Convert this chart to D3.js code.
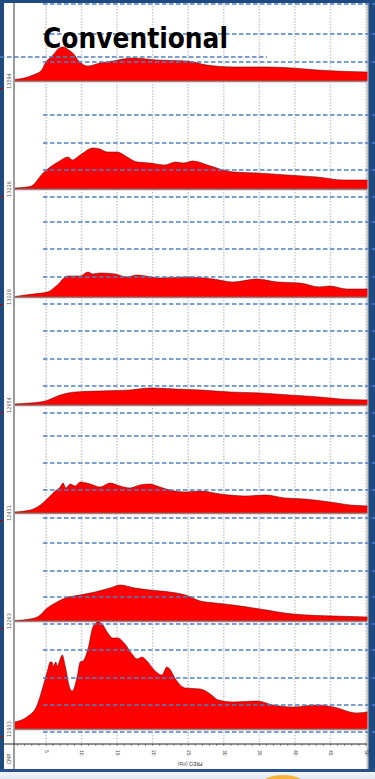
<!DOCTYPE html>
<html>
<head>
<meta charset="utf-8">
<script src="https://cdn.jsdelivr.net/npm/d3@7"></script>
<style>
  html, body { margin: 0; padding: 0; background: #1f4a80; }
  svg { display: block; }
</style>
</head>
<body>
<svg id="chart" width="375" height="779"></svg>
<script>
// CMP gather labels, top to bottom
const cmpLabels = ["13594", "13216", "13029", "12654", "12431", "12263", "11933"];

// Amplitude spectra per CMP: frequency (Hz) and relative amplitude
const freq1 = [0.6, 3.2, 4.4, 4.9, 6.0, 6.7, 7.4, 8.2, 8.9, 9.6, 10.9, 12.6, 14.4, 17.2, 20.6, 24.8, 27.6, 31.3, 36.1, 39.7, 43.1, 50.2];
const amp1  = [1.5, 6, 11, 18, 26, 32, 34, 31, 27, 20, 15, 18, 20, 23, 21, 20, 16, 14, 14, 13, 11, 9];

const freq2 = [0.6, 2.8, 4.6, 5.6, 6.7, 8.1, 8.7, 9.8, 11.6, 12.6, 13.6, 15.0, 16.4, 17.8, 19.6, 21.7, 23.2, 24.3, 25.7, 27.7, 31.3, 34.7, 38.9, 43.1, 46.8, 50.2];
const amp2  = [1, 2.5, 16, 22, 27, 32, 29, 34, 41, 40, 37, 37, 32, 27, 26, 24, 27, 26, 28, 24, 17, 16, 14, 12, 9, 9];

const freq3 = [0.6, 3.2, 5.2, 6.6, 8.0, 9.8, 10.9, 11.6, 12.6, 14.7, 16.4, 17.8, 21.0, 24.8, 28.5, 31.3, 34.7, 37.5, 40.7, 43.5, 44.9, 47.3, 50.2];
const amp3  = [0.5, 3, 5, 12, 21, 21, 25, 23, 24, 23, 20, 22, 19, 20, 18, 15, 18, 15, 14, 10, 11, 8, 8];

const freq4 = [0.6, 2.8, 4.9, 7.0, 9.1, 12.6, 16.8, 19.6, 23.2, 26.7, 30.9, 35.1, 39.3, 43.5, 46.4, 50.2];
const amp4  = [1, 2, 4, 10, 13, 14, 15, 17, 16, 15, 13, 12, 10, 8, 6, 5];

const freq5 = [0.6, 2.8, 4.2, 5.3, 6.3, 7.0, 7.4, 7.8, 8.4, 9.1, 9.8, 11.2, 12.6, 14.0, 15.4, 16.8, 18.2, 19.6, 21.0, 22.4, 24.6, 26.7, 29.5, 33.0, 35.8, 38.6, 41.4, 44.9, 47.8, 50.2];
const amp5  = [1, 3, 8, 15, 22, 26, 30, 25, 29, 27, 31, 29, 26, 30, 27, 25, 28, 29, 26, 23, 21, 22, 19, 17, 18, 15, 14, 11, 8, 7];

const freq6 = [0.6, 2.8, 4.2, 5.0, 6.3, 7.7, 9.8, 11.9, 14.0, 15.4, 17.5, 19.6, 22.4, 24.6, 26.7, 28.8, 31.3, 35.1, 39.7, 45.4, 50.2];
const amp6  = [0.5, 2, 6, 12, 18, 23, 26, 29, 33, 36, 33, 31, 29, 26, 20, 18, 16, 12, 7, 5, 4];

const freq7 = [0.6, 2.3, 3.7, 4.6, 5.2, 5.6, 5.85, 6.0, 6.4, 6.55, 7.3, 7.7, 8.4, 8.7, 9.4, 9.8, 10.2, 10.9, 11.6, 12.3, 12.9, 13.6, 14.4, 15.1, 16.1, 17.1, 17.8, 18.5, 19.2, 20.1, 21.3, 22.0, 22.4, 23.2, 24.6, 26.7, 28.1, 29.2, 31.3, 34.7, 36.9, 39.7, 43.1, 45.4, 48.7, 50.2];
const amp7  = [7, 12, 23, 43, 58, 67, 67, 63, 67, 63, 74, 63, 40, 38, 53, 67, 68, 80, 102, 107, 105, 97, 91, 91, 85, 75, 70, 72, 68, 60, 54, 62, 60, 50, 41, 40, 35, 29, 27, 28, 24, 22, 24, 22, 16, 17];

const traceFreqs = [freq1, freq2, freq3, freq4, freq5, freq6, freq7];
const traceAmps  = [amp1, amp2, amp3, amp4, amp5, amp6, amp7];

// Frequency tick labels
const freqTicks = [5, 10, 15, 20, 25, 30, 35, 40, 45, 50];

const titleText = "Conventional";
const xTitle = "FREQ (Hz)";
const yTitle = "CMP";

// ---- layout ----
const W = 375, H = 779;
const panel = { left: 4, top: 3, right: 368, bottom: 769 };
const plotLeft = 14, plotRight = 367, axisY = 744;

const svg = d3.select("#chart");

// slide background
svg.append("rect").attr("x", 0).attr("y", 0).attr("width", W).attr("height", H).attr("fill", "#1f4a80");

// lower slide strip
const grad = svg.append("defs").append("linearGradient").attr("id", "strip").attr("x1", 0).attr("y1", 0).attr("x2", 0).attr("y2", 1);
grad.append("stop").attr("offset", "0%").attr("stop-color", "#f4f7fa");
grad.append("stop").attr("offset", "100%").attr("stop-color", "#dfe7ef");
svg.append("rect").attr("x", 0).attr("y", 772).attr("width", W).attr("height", 7).attr("fill", "url(#strip)");
svg.append("ellipse").attr("cx", 283).attr("cy", 783).attr("rx", 20).attr("ry", 8).attr("fill", "#f6b53a");

// white chart panel
svg.append("rect")
  .attr("x", panel.left).attr("y", panel.top)
  .attr("width", panel.right - panel.left).attr("height", panel.bottom - panel.top)
  .attr("fill", "#ffffff");
svg.append("line").attr("x1", 367.5).attr("x2", 367.5).attr("y1", panel.top).attr("y2", panel.bottom)
  .attr("stroke", "#c4c4c4").attr("stroke-width", 2);

// scales
const x = d3.scaleLinear().domain([5, 50]).range([46, 366]);
const base = d3.scalePoint().domain(cmpLabels).range([81, 729]);
const amp = d3.scaleLinear().domain([0, 108]).range([0, 108]);

// vertical frequency grid
svg.append("g").selectAll("line").data(freqTicks).join("line")
  .attr("x1", d => x(d)).attr("x2", d => x(d))
  .attr("y1", panel.top).attr("y2", axisY)
  .attr("stroke", "#c9c9c9").attr("stroke-width", 1.5)
  .attr("stroke-dasharray", "1.5,1.5");

// traces
const area = d3.area().curve(d3.curveMonotoneX);
const line = d3.line().curve(d3.curveMonotoneX);

cmpLabels.forEach((lab, i) => {
  const b = base(lab);
  const pts = traceFreqs[i].map((f, k) => [x(f), b - amp(traceAmps[i][k])]);
  svg.append("path")
    .attr("d", area.x(d => d[0]).y0(b).y1(d => d[1])(pts))
    .attr("fill", "#ff0000");
  svg.append("path")
    .attr("d", line.x(d => d[0]).y(d => d[1])(pts))
    .attr("fill", "none").attr("stroke", "#6b0000").attr("stroke-width", 0.7).attr("stroke-opacity", 0.8);
  svg.append("line")
    .attr("x1", plotLeft).attr("x2", plotRight).attr("y1", b + 0.5).attr("y2", b + 0.5)
    .attr("stroke", "#8a8a8a").attr("stroke-width", 1.3);
  // CMP label
  svg.append("text")
    .attr("transform", `translate(10.5,${b}) rotate(-90)`)
    .attr("text-anchor", "middle")
    .attr("font-family", "DejaVu Sans Condensed, DejaVu Sans, sans-serif")
    .attr("font-size", 5.5).attr("fill", "#555")
    .text(lab);
  // tick mark on the slide edge
  svg.append("rect").attr("x", 0).attr("y", b + 7).attr("width", 3).attr("height", 1.5).attr("fill", "#8a1a1a");
});

// left axis line
svg.append("line").attr("x1", plotLeft).attr("x2", plotLeft).attr("y1", panel.top).attr("y2", panel.bottom)
  .attr("stroke", "#9c9c9c").attr("stroke-width", 2);

// frequency axis
const minor = d3.range(1, 51);
svg.append("g").selectAll("line").data(minor).join("line")
  .attr("x1", d => x(d)).attr("x2", d => x(d))
  .attr("y1", axisY).attr("y2", axisY + 2)
  .attr("stroke", "#777").attr("stroke-width", 0.8);

const xAxis = d3.axisBottom(x).tickValues(freqTicks).tickSize(0).tickPadding(0);
const gx = svg.append("g").attr("transform", `translate(0,${axisY})`).call(xAxis);
gx.select(".domain").remove();
gx.selectAll("text")
  .attr("transform", "translate(0,6) rotate(90)")
  .attr("dy", "0.32em").attr("y", 0)
  .attr("text-anchor", "start")
  .attr("font-family", "DejaVu Sans Condensed, DejaVu Sans, sans-serif")
  .attr("font-size", 5).attr("fill", "#444");
svg.append("line").attr("x1", panel.left).attr("x2", plotRight).attr("y1", axisY).attr("y2", axisY)
  .attr("stroke", "#222").attr("stroke-width", 1);

svg.append("text")
  .attr("transform", `translate(190,762) rotate(180)`)
  .attr("text-anchor", "middle")
  .attr("font-family", "DejaVu Sans Condensed, DejaVu Sans, sans-serif")
  .attr("font-size", 5.5).attr("fill", "#333")
  .text(xTitle);
svg.append("text")
  .attr("transform", `translate(11,759) rotate(-90)`)
  .attr("text-anchor", "middle")
  .attr("font-family", "DejaVu Sans Condensed, DejaVu Sans, sans-serif")
  .attr("font-size", 5.5).attr("fill", "#444")
  .text(yTitle);

// panel bottom border
svg.append("line").attr("x1", 0).attr("x2", W).attr("y1", 770.5).attr("y2", 770.5)
  .attr("stroke", "#2a5590").attr("stroke-width", 2);

// blue dashed guide lines across the panel
const guideY = [4, 34, 62, 115, 143, 170, 197, 222, 249, 277, 304, 331, 359, 386, 413, 436, 463, 490, 518, 543, 571, 597, 624, 650, 678, 705, 732];
svg.append("g").selectAll("line").data(guideY).join("line")
  .attr("x1", 43).attr("x2", W).attr("y1", d => d).attr("y2", d => d)
  .attr("stroke", "#4f7fc4").attr("stroke-width", 1.3)
  .attr("stroke-dasharray", "4.5,2.5");
svg.append("line").attr("x1", 0).attr("x2", 267).attr("y1", 57).attr("y2", 57)
  .attr("stroke", "#4f7fc4").attr("stroke-width", 1.3).attr("stroke-dasharray", "4.5,2.5");

// title
svg.append("text")
  .attr("x", 43).attr("y", 48)
  .attr("font-family", "DejaVu Sans, sans-serif")
  .attr("font-weight", "bold").attr("font-size", 29)
  .attr("textLength", 185).attr("lengthAdjust", "spacingAndGlyphs")
  .attr("fill", "#000")
  .text(titleText);
</script>
</body>
</html>
